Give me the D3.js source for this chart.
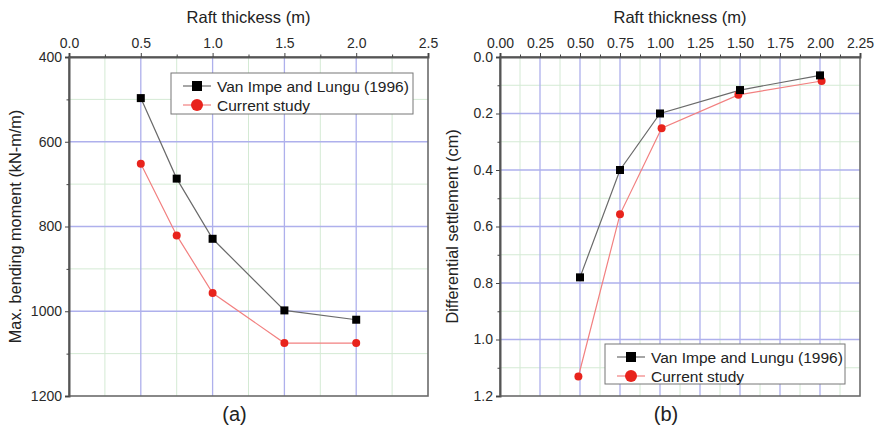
<!DOCTYPE html>
<html>
<head>
<meta charset="utf-8">
<script src="https://cdn.jsdelivr.net/npm/d3@7"></script>
<style>
  body { margin: 0; background: #fff; }
  svg { display: block; font-family: "Liberation Sans", Arial, sans-serif; }
</style>
</head>
<body>
<svg id="chart" width="877" height="429"></svg>
<script>
// ── Data ────────────────────────────────────────────────────────
// (a) max bending moment vs raft thickness
const momentThick    = [0.5, 0.75, 1.0, 1.5, 2.0];
const momentVanImpe  = [497, 687, 829, 998, 1020];
const momentCurrent  = [652, 821, 957, 1075, 1075];

// (b) differential settlement vs raft thickness
const settleThickVan = [0.5, 0.75, 1.0, 1.5, 2.0];
const settleVanImpe  = [0.78, 0.40, 0.20, 0.117, 0.065];
const settleThickCur = [0.49, 0.75, 1.01, 1.49, 2.01];
const settleCurrent  = [1.131, 0.557, 0.252, 0.134, 0.085];

const momentXTicks = [0, 0.5, 1.0, 1.5, 2.0, 2.5];
const momentYTicks = [400, 600, 800, 1000, 1200];
const settleXTicks = [0, 0.25, 0.5, 0.75, 1.0, 1.25, 1.5, 1.75, 2.0, 2.25];
const settleYTicks = [0, 0.2, 0.4, 0.6, 0.8, 1.0, 1.2];

const seriesNames = ["Van Impe and Lungu (1996)", "Current study"];

const svg = d3.select("#chart");

function drawPanel(cfg) {
    const g = svg.append("g");
    const x = d3.scaleLinear().domain(cfg.xDomain).range([cfg.left, cfg.right]);
    const y = d3.scaleLinear().domain(cfg.yDomain).range([cfg.top, cfg.bottom]);

    // minor grid (green)
    g.selectAll(".vminor").data(cfg.xMinor).join("line")
        .attr("x1", d => x(d)).attr("x2", d => x(d))
        .attr("y1", cfg.top).attr("y2", cfg.bottom)
        .attr("stroke", "#d4ead4").attr("stroke-width", 1);
    g.selectAll(".hminor").data(cfg.yMinor).join("line")
        .attr("y1", d => y(d)).attr("y2", d => y(d))
        .attr("x1", cfg.left).attr("x2", cfg.right)
        .attr("stroke", "#d4ead4").attr("stroke-width", 1);
    // major grid (blue)
    g.selectAll(".vmajor").data(cfg.xTicks.slice(1, -1)).join("line")
        .attr("x1", d => x(d)).attr("x2", d => x(d))
        .attr("y1", cfg.top).attr("y2", cfg.bottom)
        .attr("stroke", "#aeb0ec").attr("stroke-width", 1.3);
    g.selectAll(".hmajor").data(cfg.yTicks.slice(1, -1)).join("line")
        .attr("y1", d => y(d)).attr("y2", d => y(d))
        .attr("x1", cfg.left).attr("x2", cfg.right)
        .attr("stroke", "#aeb0ec").attr("stroke-width", 1.3);

    // frame
    g.append("rect")
        .attr("x", cfg.left).attr("y", cfg.top)
        .attr("width", cfg.right - cfg.left).attr("height", cfg.bottom - cfg.top)
        .attr("fill", "none").attr("stroke", "#6b6b6b").attr("stroke-width", 1.6);

    // axes: top and left
    const top = g.append("g").attr("transform", `translate(0,${cfg.top})`)
        .call(d3.axisTop(x).tickValues(cfg.xTicks).tickFormat(cfg.xFmt).tickSize(4).tickPadding(5));
    g.append("g").attr("transform", `translate(0,${cfg.top})`)
        .call(d3.axisTop(x).tickValues(cfg.xMinor).tickFormat("").tickSize(2.5))
        .select(".domain").remove();
    const left = g.append("g").attr("transform", `translate(${cfg.left},0)`)
        .call(d3.axisLeft(y).tickValues(cfg.yTicks).tickFormat(cfg.yFmt).tickSize(4).tickPadding(3));
    g.append("g").attr("transform", `translate(${cfg.left},0)`)
        .call(d3.axisLeft(y).tickValues(cfg.yMinor).tickFormat("").tickSize(2.5))
        .select(".domain").remove();
    [top, left].forEach(a => {
        a.select(".domain").attr("stroke", "#555").attr("stroke-width", 2);
        a.selectAll("text").style("font-size", "14px").attr("fill", "#2a2a2a");
    });
    g.selectAll(".tick line").attr("stroke", "#444");

    // axis titles
    g.append("text").attr("x", (cfg.left + cfg.right) / 2).attr("y", 23)
        .attr("text-anchor", "middle").style("font-size", "16.5px").attr("fill", "#222")
        .text(cfg.xTitle);
    g.append("text").attr("transform", "rotate(-90)")
        .attr("x", -(cfg.top + cfg.bottom) / 2).attr("y", cfg.yTitleX)
        .attr("text-anchor", "middle").style("font-size", "16.3px").attr("fill", "#222")
        .text(cfg.yTitle);
    g.append("text").attr("x", (cfg.left + cfg.right) / 2 - 14).attr("y", 421)
        .attr("text-anchor", "middle").style("font-size", "20px").attr("fill", "#222")
        .text(cfg.panel);

    // series
    const line = d3.line().x(d => x(d[0])).y(d => y(d[1]));
    const vanPts = cfg.vanX.map((v, i) => [v, cfg.vanY[i]]);
    const curPts = cfg.curX.map((v, i) => [v, cfg.curY[i]]);
    g.append("path").datum(curPts).attr("d", line)
        .attr("fill", "none").attr("stroke", "#f28080").attr("stroke-width", 1.2);
    g.append("path").datum(vanPts).attr("d", line)
        .attr("fill", "none").attr("stroke", "#6a6a6a").attr("stroke-width", 1.2);
    g.selectAll(".cur").data(curPts).join("circle")
        .attr("cx", d => x(d[0])).attr("cy", d => y(d[1])).attr("r", 4)
        .attr("fill", "#e8231c");
    g.selectAll(".van").data(vanPts).join("rect")
        .attr("x", d => x(d[0]) - 4).attr("y", d => y(d[1]) - 4)
        .attr("width", 8).attr("height", 8).attr("fill", "#000");

    // legend
    const L = cfg.legend;
    const lg = g.append("g").attr("transform", `translate(${L.x},${L.y})`);
    lg.append("rect").attr("width", L.w).attr("height", L.h)
        .attr("fill", "#fff").attr("stroke", "#777").attr("stroke-width", 1);
    seriesNames.forEach((name, i) => {
        const cy = 13 + i * 19;
        lg.append("line").attr("x1", 12).attr("x2", 40).attr("y1", cy).attr("y2", cy)
            .attr("stroke", i === 0 ? "#6a6a6a" : "#f28080").attr("stroke-width", 1.2);
        if (i === 0) {
            lg.append("rect").attr("x", 21).attr("y", cy - 5).attr("width", 10).attr("height", 10).attr("fill", "#000");
        } else {
            lg.append("circle").attr("cx", 26).attr("cy", cy).attr("r", 6).attr("fill", "#e8231c");
        }
        lg.append("text").attr("x", 46).attr("y", cy + 5.5)
            .style("font-size", "15.5px").attr("fill", "#222").text(name);
    });
}

drawPanel({
    left: 69, right: 428, top: 57, bottom: 396,
    xDomain: [0, 2.5], yDomain: [400, 1200],
    xTicks: momentXTicks, yTicks: momentYTicks,
    xMinor: [0.25, 0.75, 1.25, 1.75, 2.25], yMinor: [500, 700, 900, 1100],
    xFmt: d3.format(".1f"), yFmt: d3.format("d"),
    xTitle: "Raft thickess (m)", yTitle: "Max. bending moment (kN-m/m)", yTitleX: 21,
    panel: "(a)",
    vanX: momentThick, vanY: momentVanImpe, curX: momentThick, curY: momentCurrent,
    legend: { x: 171, y: 73, w: 242, h: 41 }
});

drawPanel({
    left: 500, right: 860, top: 57, bottom: 396,
    xDomain: [0, 2.25], yDomain: [0, 1.2],
    xTicks: settleXTicks, yTicks: settleYTicks,
    xMinor: d3.range(0.125, 2.25, 0.25), yMinor: [0.1, 0.3, 0.5, 0.7, 0.9, 1.1],
    xFmt: d3.format(".2f"), yFmt: d3.format(".1f"),
    xTitle: "Raft thickness (m)", yTitle: "Differential settlement (cm)", yTitleX: 458,
    panel: "(b)",
    vanX: settleThickVan, vanY: settleVanImpe, curX: settleThickCur, curY: settleCurrent,
    legend: { x: 605, y: 344, w: 240, h: 40 }
});
</script>
</body>
</html>
